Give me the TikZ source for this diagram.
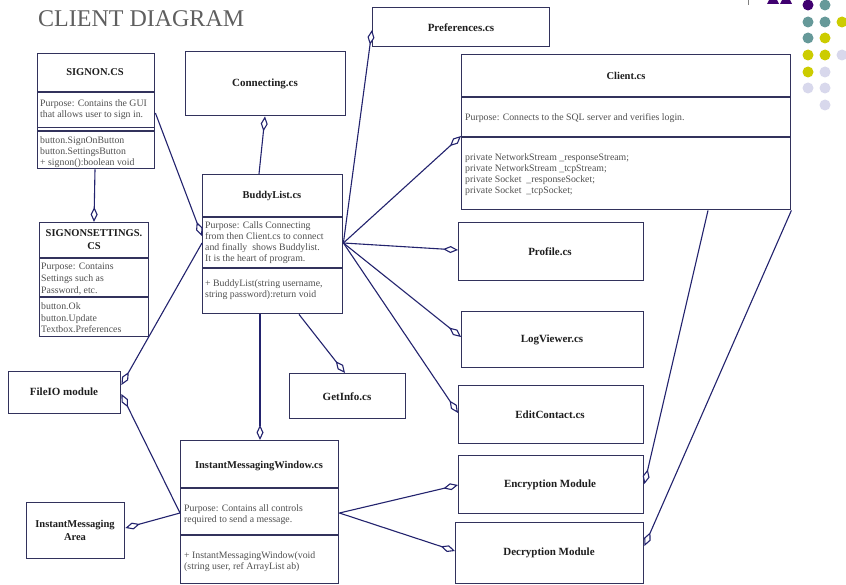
\documentclass[tikz,border=0pt]{standalone}
\usepackage{fontspec}
\setmainfont{Liberation Serif}
\usetikzlibrary{arrows.meta,calc}
\definecolor{boxc}{RGB}{50,50,92}
\definecolor{linec}{RGB}{35,35,110}
\definecolor{titc}{RGB}{30,30,30}
\definecolor{bodyc}{RGB}{80,80,80}
\definecolor{headc}{RGB}{95,95,95}
\definecolor{dpurple}{RGB}{64,0,112}
\definecolor{dteal}{RGB}{102,153,153}
\definecolor{dyellow}{RGB}{204,204,0}
\definecolor{dlav}{RGB}{216,216,236}
\tikzset{
  cls/.style={draw=boxc, line width=1.4pt, fill=white, inner sep=0pt, anchor=north west},
  divl/.style={draw=boxc, line width=1.4pt},
  ttl/.style={font=\fontsize{10.5}{13}\selectfont\bfseries, text=titc, align=center, inner sep=0pt},
  sttl/.style={font=\fontsize{11}{13}\selectfont\bfseries, text=titc, align=center, inner sep=0pt},
  body/.style={font=\fontsize{9.8}{11}\selectfont, text=bodyc, align=left, anchor=north west, inner sep=0pt},
  conn/.style={draw=linec, line width=1.1pt, -{Diamond[length=15pt,width=7pt,fill=white]}},
  dot/.style={circle, inner sep=0pt, minimum size=11pt},
}
\begin{document}
\begin{tikzpicture}[x=1pt,y=1pt]
\useasboundingbox (0,0) rectangle (846,-585);
\clip (0,0) rectangle (846,-585);
\fill[white] (0,0) rectangle (846,-585);

% title
\node[font=\fontsize{24}{26}\selectfont, text=headc, anchor=base west, inner sep=0pt] (title) at (38,-27) {CLIENT DIAGRAM};

% decoration top right
\draw[gray, line width=0.6pt] (748,0) -- (748,-5);
\fill[dpurple] (767,-4) -- (779,-4) -- (773,8) -- cycle;
\fill[dpurple] (780,-4) -- (792,-4) -- (786,8) -- cycle;
\node[dot, fill=dpurple] (d11) at (808,-5) {};
\node[dot, fill=dteal] (d12) at (825,-5) {};
\node[dot, fill=dteal] (d21) at (808,-22) {};
\node[dot, fill=dteal] (d22) at (825,-22) {};
\node[dot, fill=dyellow] (d23) at (842,-22) {};
\node[dot, fill=dteal] (d31) at (808,-38) {};
\node[dot, fill=dyellow] (d32) at (825,-38) {};
\node[dot, fill=dyellow] (d41) at (808,-55) {};
\node[dot, fill=dyellow] (d42) at (825,-55) {};
\node[dot, fill=dlav] (d43) at (842,-55) {};
\node[dot, fill=dyellow] (d51) at (808,-72) {};
\node[dot, fill=dlav] (d52) at (825,-72) {};
\node[dot, fill=dlav] (d61) at (808,-88) {};
\node[dot, fill=dlav] (d62) at (825,-88) {};
\node[dot, fill=dlav] (d72) at (825,-105) {};

% ---- boxes ----
% Preferences
\node[cls, minimum width=177pt, minimum height=39pt] (pref) at (372,-7) {};
\node[sttl] (prefT) at (461,-28) {Preferences.cs};

% SIGNON.CS
\node[cls, minimum width=117pt, minimum height=115pt] (signon) at (37,-53) {};
\draw[divl] ([yshift=-39]signon.north west) -- ([yshift=-39]signon.north east);
\draw[divl] ([yshift=-74.5]signon.north west) -- ([yshift=-74.5]signon.north east);
\draw[divl] ([yshift=-78]signon.north west) -- ([yshift=-78]signon.north east);
\node[ttl] (signonT) at (95,-72) {SIGNON.CS};
\node[body] (signonP) at (40,-100) {Purpose: Contains the GUI\\that allows user to sign in.};
\node[body] (signonM) at (40,-137) {button.SignOnButton\\button.SettingsButton\\+ signon():boolean void};

% Connecting
\node[cls, minimum width=160pt, minimum height=64pt] (conn) at (185,-51) {};
\node[sttl] (connT) at (265,-84) {Connecting.cs};

% Client.cs
\node[cls, minimum width=329pt, minimum height=155pt] (client) at (461,-54) {};
\draw[divl] ([yshift=-43]client.north west) -- ([yshift=-43]client.north east);
\draw[divl] ([yshift=-83]client.north west) -- ([yshift=-83]client.north east);
\node[ttl] (clientT) at (626,-76) {Client.cs};
\node[body] (clientP) at (465,-113) {Purpose: Connects to the SQL server and verifies login.};
\node[body] (clientM) at (465,-154) {private NetworkStream \_responseStream;\\private NetworkStream \_tcpStream;\\private Socket \ \_responseSocket;\\private Socket \ \_tcpSocket;};

% BuddyList.cs
\node[cls, minimum width=140pt, minimum height=139pt] (buddy) at (202,-174) {};
\draw[divl] ([yshift=-43]buddy.north west) -- ([yshift=-43]buddy.north east);
\draw[divl] ([yshift=-94]buddy.north west) -- ([yshift=-94]buddy.north east);
\node[ttl] (buddyT) at (272,-196) {BuddyList.cs};
\node[body] (buddyP) at (205,-222) {Purpose: Calls Connecting\\from then Client.cs to connect\\and finally \ shows Buddylist.\\It is the heart of program.};
\node[body] (buddyM) at (205,-280) {+ BuddyList(string username,\\string password):return void};

% SIGNONSETTINGS.CS
\node[cls, minimum width=109pt, minimum height=114pt] (signonset) at (39,-222) {};
\draw[divl] ([yshift=-36]signonset.north west) -- ([yshift=-36]signonset.north east);
\draw[divl] ([yshift=-75]signonset.north west) -- ([yshift=-75]signonset.north east);
\node[ttl] (signonsetT) at (94,-240) {SIGNONSETTINGS.\\CS};
\node[body, font=\fontsize{9.8}{12}\selectfont] (signonsetP) at (41,-263) {Purpose: Contains\\Settings such as\\Password, etc.};
\node[body] (signonsetM) at (41,-303) {button.Ok\\button.Update\\Textbox.Preferences};

% Profile, LogViewer, EditContact
\node[cls, minimum width=185pt, minimum height=58pt] (profile) at (458,-222) {};
\node[sttl] (profileT) at (550,-252) {Profile.cs};
\node[cls, minimum width=182pt, minimum height=56pt] (logv) at (461,-311) {};
\node[sttl] (logvT) at (552,-340) {LogViewer.cs};
\node[cls, minimum width=185pt, minimum height=58pt] (editc) at (458,-385) {};
\node[sttl] (editcT) at (550,-415) {EditContact.cs};

% GetInfo
\node[cls, minimum width=116pt, minimum height=45pt] (getinfo) at (289,-373) {};
\node[sttl] (getinfoT) at (347,-397) {GetInfo.cs};

% FileIO
\node[cls, minimum width=112pt, minimum height=42pt] (fileio) at (8,-371) {};
\node[sttl] (fileioT) at (64,-392) {FileIO module};

% InstantMessagingWindow.cs
\node[cls, minimum width=158pt, minimum height=143pt] (imw) at (180,-440) {};
\draw[divl] ([yshift=-48]imw.north west) -- ([yshift=-48]imw.north east);
\draw[divl] ([yshift=-95]imw.north west) -- ([yshift=-95]imw.north east);
\node[ttl] (imwT) at (259,-466) {InstantMessagingWindow.cs};
\node[body] (imwP) at (184,-504) {Purpose: Contains all controls\\required to send a message.};
\node[body] (imwM) at (184,-551) {+ InstantMessagingWindow(void\\(string user, ref ArrayList ab)};

% Encryption, Decryption
\node[cls, minimum width=185pt, minimum height=58pt] (encr) at (458,-455) {};
\node[sttl] (encrT) at (550,-485) {Encryption Module};
\node[cls, minimum width=188pt, minimum height=61pt] (decr) at (455,-522) {};
\node[sttl] (decrT) at (549,-553) {Decryption Module};

% InstantMessaging Area
\node[cls, minimum width=98pt, minimum height=56pt] (imarea) at (26,-502) {};
\node[sttl, font=\fontsize{10.5}{13}\selectfont\bfseries] (imareaT) at (75,-530) {InstantMessaging\\Area};

% ---- connectors ----
\draw[conn] ([xshift=57]buddy.north west) -- ([xshift=80]conn.south west);
\draw[conn] ([xshift=58]signon.south west) -- ([xshift=55]signonset.north west);
\draw[conn] ([yshift=-60]signon.north east) -- ([yshift=-62]buddy.north west);
\draw[conn] ([yshift=-69]buddy.north east) -- ([yshift=-23]pref.north west);
\draw[conn] ([yshift=-69]buddy.north east) -- ([yshift=-82]client.north west);
\draw[conn] ([yshift=-69]buddy.north east) -- ([yshift=-28]profile.north west);
\draw[conn] ([yshift=-69]buddy.north east) -- ([yshift=-26]logv.north west);
\draw[conn] ([yshift=-69]buddy.north east) -- ([yshift=-28]editc.north west);
\draw[conn] ([xshift=97]buddy.south west) -- ([xshift=56]getinfo.north west);
\draw[conn] ([xshift=58]buddy.south west) -- ([xshift=80]imw.north west);
\draw[conn] ([yshift=-69]buddy.north west) -- ([yshift=-14]fileio.north east);
\draw[conn] ([yshift=-73]imw.north west) -- ([yshift=-23]fileio.north east);
\draw[conn] ([yshift=-73]imw.north west) -- ([yshift=-26]imarea.north east);
\draw[conn] ([yshift=-73]imw.north east) -- ([yshift=-30]encr.north west);
\draw[conn] ([yshift=-73]imw.north east) -- ([yshift=-29]decr.north west);
\draw[conn] ([xshift=247]client.south west) -- ([yshift=-29]encr.north east);
\draw[conn] (client.south east) -- ([yshift=-24]decr.north east);
\end{tikzpicture}
\end{document}
